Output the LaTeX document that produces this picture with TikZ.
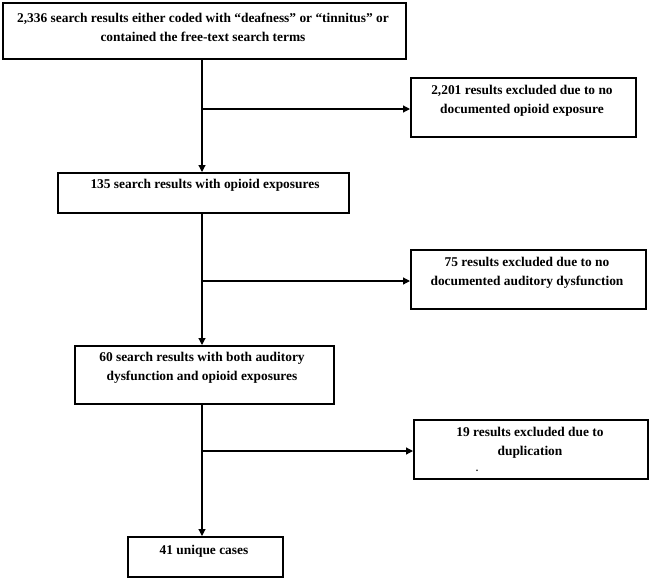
\documentclass[tikz,border=0pt]{standalone}
\usepackage{fontspec}
\setmainfont{Liberation Serif}
\usetikzlibrary{arrows.meta}
\begin{document}
\begin{tikzpicture}[x=1pt,y=-1pt,
  box/.style={draw=black, line width=1.6pt, anchor=north west, inner sep=0pt},
  txt/.style={font=\bfseries\fontsize{13.4}{19}\selectfont, align=center, inner sep=0pt},
  arr/.style={line width=1.2pt, -{Triangle[length=7pt,width=7pt]}},
  ln/.style={line width=1.2pt}]
\useasboundingbox (0,0) rectangle (649,579);
% boxes
\node[box, minimum width=403pt, minimum height=56pt] (b1) at (2,2) {};
\node[box, minimum width=225pt, minimum height=59pt] (b2) at (410,77) {};
\node[box, minimum width=291pt, minimum height=40pt] (b3) at (57,172) {};
\node[box, minimum width=235pt, minimum height=59pt] (b4) at (410,249) {};
\node[box, minimum width=259pt, minimum height=58pt] (b5) at (74,345) {};
\node[box, minimum width=234pt, minimum height=59pt] (b6) at (413,419) {};
\node[box, minimum width=155pt, minimum height=40pt] (b7) at (127,536) {};
% texts
\node[txt] (t1) at (203,27) {2,336 search results either coded with “deafness” or “tinnitus” or\\contained the free-text search terms};
\node[txt] (t2) at (522,101) {2,201 results excluded due to no\\documented opioid exposure};
\node[txt] (t3) at (205,185) {135 search results with opioid exposures};
\node[txt] (t4) at (527,273) {75 results excluded due to no\\documented auditory dysfunction};
\node[txt] (t5) at (202,368) {60 search results with both auditory\\dysfunction and opioid exposures};
\node[txt] (t6) at (530,443) {19 results excluded due to\\duplication};
\node[txt] (t7) at (204,551) {41 unique cases};
\node[font=\bfseries\fontsize{10}{12}\selectfont, inner sep=0pt] (dot) at (477,471) {.};
% junctions
\coordinate (j1) at (202,109);
\coordinate (j2) at (202,281);
\coordinate (j3) at (202,451);
% connectors
\draw[arr] (b1.south -| j1) -- (b3.north -| j1);
\draw[arr] (j1) -- (j1 -| b2.west);
\draw[arr] (b3.south -| j1) -- (b5.north -| j1);
\draw[arr] (j2) -- (j2 -| b4.west);
\draw[arr] (b5.south -| j1) -- (b7.north -| j1);
\draw[arr] (j3) -- (j3 -| b6.west);
\end{tikzpicture}
\end{document}
